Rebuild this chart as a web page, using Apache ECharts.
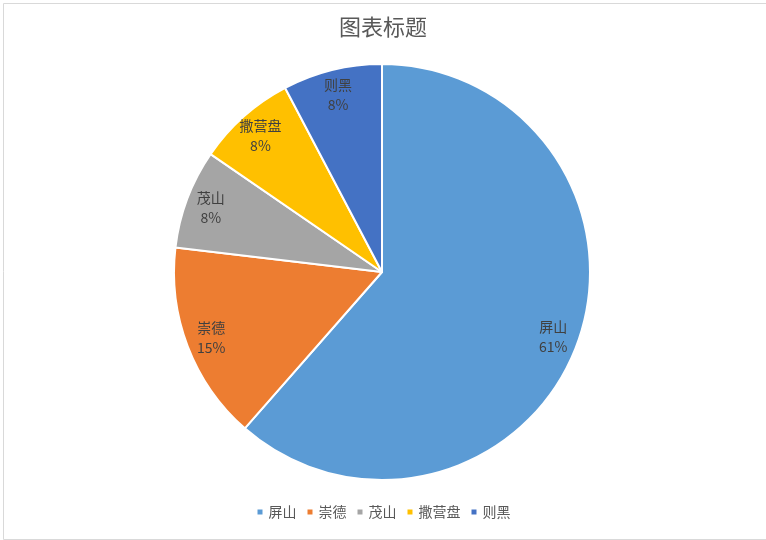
<!DOCTYPE html>
<html>
<head>
<meta charset="utf-8">
<script src="https://cdn.jsdelivr.net/npm/echarts@6/dist/echarts.min.js"></script>
<style>html,body{margin:0;padding:0;background:#fff}#c{width:766px;height:540px}</style>
</head>
<body>
<div id="c"></div>
<script>
const categories = ['屏山', '崇德', '茂山', '撒营盘', '则黑'];
const values = [61.4, 15.4, 7.7, 7.7, 7.7];
const colors = ['#5B9BD5', '#ED7D31', '#A5A5A5', '#FFC000', '#4472C4'];
const titleText = '图表标题';

const data = categories.map((n, i) => ({ name: n, value: values[i] }));
const font = '"Noto Sans CJK SC", "Noto Sans", sans-serif';
const chart = echarts.init(document.getElementById('c'), null, { renderer: 'canvas' });
chart.setOption({
  animation: false,
  color: colors,
  textStyle: { fontFamily: font },
  graphic: [{
    type: 'rect', left: 1, top: 1, silent: true,
    shape: { x: 0, y: 0, width: 763, height: 536 },
    style: { fill: 'none', stroke: '#d9d9d9', lineWidth: 1 }
  }],
  title: {
    text: titleText, left: 'center', top: 11,
    textStyle: { fontSize: 22, fontWeight: 'normal', color: '#595959', fontFamily: font }
  },
  legend: {
    bottom: 16, left: 'center', icon: 'rect', itemWidth: 7, itemHeight: 7, itemGap: 9,
    textStyle: { fontSize: 14, color: '#595959', fontFamily: font },
    data: categories
  },
  series: [{
    type: 'pie', center: [382, 272], radius: [0, 208], startAngle: 90, clockwise: true,
    data: data, label: { show: false }, labelLine: { show: false },
    itemStyle: { borderColor: '#fff', borderWidth: 2 }
  }, {
    type: 'pie', center: [382, 272], radius: [152, 208], startAngle: 90, clockwise: true,
    silent: true, legendHoverLink: false, percentPrecision: 0,
    data: data,
    itemStyle: { color: 'rgba(0,0,0,0)', borderWidth: 0 },
    label: {
      show: true, position: 'inside', formatter: '{b}\n{d}%',
      fontSize: 14, lineHeight: 20, color: '#404040', fontFamily: font
    },
    labelLine: { show: false },
    tooltip: { show: false }
  }]
});
</script>
</body>
</html>
